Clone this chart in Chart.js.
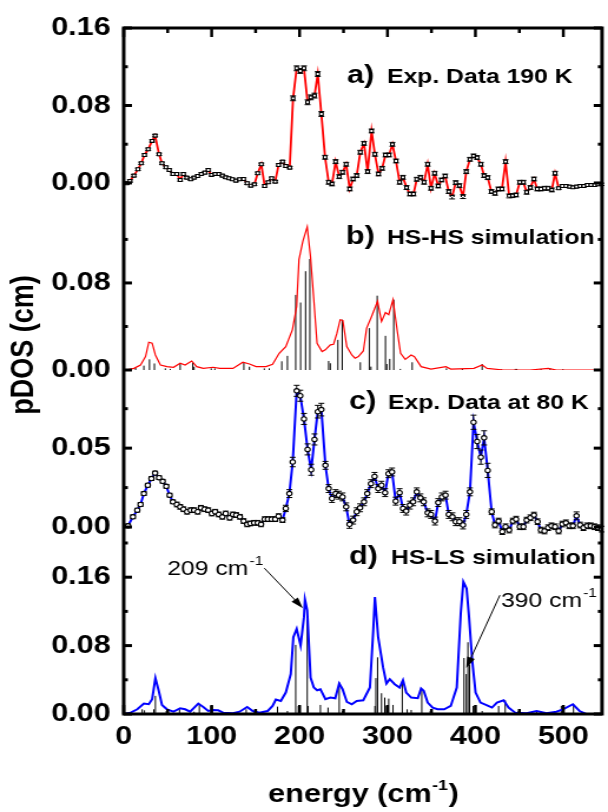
<!DOCTYPE html>
<html>
<head>
<meta charset="utf-8">
<title>pDOS</title>
<script src="https://cdn.jsdelivr.net/npm/chart.js@4.4.1/dist/chart.umd.min.js"></script>
<style>
    html, body { margin: 0; padding: 0; background: #fff; overflow: hidden; }
    #quadro { position: absolute; left: 0; top: 0; width: 516px; height: 812px; transform: scaleX(1.1783); transform-origin: 0 0; }
</style>
</head>
<body>
<div id="quadro"><canvas id="grafico" width="516" height="812"></canvas></div>
<script>
const fonte = "'Liberation Sans', Arial, Helvetica, sans-serif"

// eixos
const xTicks = [0, 100, 200, 300, 400, 500]
const xMinor = [50, 150, 250, 350, 450]
const aTicks = [0, 0.08, 0.16]
const aMinor = [0.04, 0.12]
const bTicks = [0, 0.08]
const bMinor = [0.04, 0.12]
const cTicks = [0, 0.05]
const cMinor = [0.025, 0.075]
const dTicks = [0, 0.08, 0.16]
const dMinor = [0.04, 0.12, 0.2]

const panelTags = ['a)', 'b)', 'c)', 'd)']
const panelNames = ['Exp. Data 190 K', 'HS-HS simulation', 'Exp. Data at 80 K', 'HS-LS simulation']
const peakNames = ['209', '390']
const peakTips = [[203.8, 0.1238], [389.6, 0.0537]]

// a) Exp. Data 190 K
const eA = [3.4,7.1,11.6,16.1,19.9,23.6,27.8,32.3,35.7,40.2,43.5,48.0,51.8,55.9,60.4,64.2,67.9,71.7,76.2,80.0,
    84.1,88.2,92.3,96.1,99.8,104.0,108.1,112.2,116.0,119.7,123.5,127.6,131.8,136.3,140.4,144.5,148.6,152.4,156.5,160.3,
    164.4,168.2,172.3,176.1,180.6,184.3,188.8,192.6,196.7,200.8,205.0,209.1,212.8,217.0,220.7,224.8,229.0,233.1,236.9,241.0,
    245.1,248.9,253.0,257.1,260.9,265.0,269.1,273.3,277.4,281.9,285.7,289.8,293.9,297.7,301.8,305.6,309.7,313.8,317.6,321.7,
    325.5,329.6,333.3,337.5,341.6,345.7,349.5,353.6,357.7,361.5,365.6,369.7,373.5,377.6,381.8,385.9,389.6,393.8,397.9,402.0,
    406.2,409.9,414.0,418.2,422.3,426.1,430.2,434.3,438.4,442.2,446.3,450.5,454.6,458.3,462.5,466.6,470.3,474.5,478.6,482.7,
    486.9,490.6,494.7,498.9,503.0,507.1,510.9,515.0,519.1,523.3,527.4,531.5,535.7,539.4,543.5]
const vA = [-0.0003,0.0021,0.0076,0.0141,0.0203,0.0289,0.0348,0.0434,0.0489,0.0296,0.0203,0.0162,0.0134,0.0093,0.0093,0.0031,0.0093,0.0055,0.0038,0.0055,
    0.0072,0.0093,0.0107,0.0134,0.0083,0.0093,0.0093,0.0076,0.0058,0.0048,0.0038,0.0024,0.0038,0.0041,-0.0003,-0.0028,-0.0014,0.0100,0.0193,-0.0031,
    0.0007,0.0048,0.0014,0.0186,0.0220,0.0175,0.0158,0.0874,0.1184,0.1156,0.1184,0.0833,0.0884,0.0902,0.1125,0.0712,0.0265,0.0007,-0.0010,0.0220,
    0.0065,0.0110,0.0193,-0.0062,0.0041,0.0076,0.0317,0.0409,0.0117,0.0537,0.0296,0.0093,0.0151,0.0289,0.0289,0.0399,0.0227,0.0007,0.0058,-0.0048,
    -0.0114,-0.0114,0.0038,0.0058,0.0007,0.0193,-0.0055,0.0100,-0.0031,0.0031,0.0072,-0.0089,-0.0145,0.0003,-0.0028,-0.0141,0.0117,0.0244,0.0279,0.0262,
    0.0193,0.0076,0.0055,-0.0089,-0.0107,-0.0062,-0.0062,0.0220,-0.0134,-0.0131,-0.0124,0.0007,0.0007,-0.0096,-0.0048,0.0041,-0.0062,-0.0062,-0.0055,-0.0055,
    -0.0072,0.0100,-0.0055,-0.0031,-0.0031,-0.0038,-0.0045,-0.0038,-0.0031,-0.0031,-0.0021,-0.0021,-0.0021,-0.0014,-0.0014]
const errA = [0.0012,0.0012,0.0012,0.0012,0.0012,0.0012,0.0012,0.0012,0.0012,0.0012,0.0012,0.0012,0.0012,0.0012,0.0012,0.0012,0.0012,0.0012,0.0012,0.0012,
    0.0012,0.0012,0.0012,0.0012,0.0012,0.0012,0.0012,0.0012,0.0012,0.0012,0.0012,0.0012,0.0012,0.0012,0.0012,0.0012,0.0012,0.0012,0.0012,0.0012,
    0.0012,0.0012,0.0012,0.0012,0.0012,0.0012,0.0012,0.0025,0.0025,0.0025,0.0025,0.0025,0.0025,0.0025,0.0025,0.0025,0.002,0.002,0.002,0.002,
    0.002,0.002,0.002,0.002,0.002,0.002,0.002,0.002,0.002,0.002,0.002,0.002,0.002,0.002,0.002,0.002,0.002,0.002,0.002,0.002,
    0.002,0.002,0.002,0.002,0.002,0.002,0.002,0.002,0.002,0.002,0.002,0.002,0.002,0.002,0.002,0.002,0.002,0.002,0.002,0.002,
    0.002,0.002,0.002,0.002,0.002,0.002,0.002,0.002,0.002,0.002,0.002,0.002,0.002,0.002,0.002,0.002,0.002,0.002,0.002,0.002,
    0.002,0.002,0.0012,0.0012,0.0012,0.0012,0.0012,0.0012,0.0012,0.0012,0.0012,0.0012,0.0012,0.0012,0.0012]

// b) HS-HS simulation
const eB = [2.3,11.6,19.1,24.8,28.5,32.3,36.0,41.7,49.2,56.7,64.2,69.8,77.3,83.0,90.5,101.7,109.2,124.2,135.5,143.0,
    150.5,161.8,169.3,176.8,184.3,191.8,196.7,199.3,203.8,208.7,212.4,216.2,219.9,225.6,229.3,235.0,238.7,242.5,246.2,249.2,
    253.7,259.4,263.1,266.9,272.5,276.3,281.9,288.7,293.2,297.7,301.4,306.3,311.2,314.9,320.2,326.9,330.7,338.2,349.5,366.4,
    372.0,398.3,407.7,413.3,432.1,462.1,482.8,492.1,537.2,544]
const vB = [0,0.0015,0.0046,0.0123,0.0255,0.0246,0.0138,0.0046,0.0031,0.0025,0.0062,0.0046,0.0083,0.0031,0.0015,0.0025,0.0015,0.0015,0.0071,0.0055,
    0.0031,0.0031,0.0052,0.0154,0.0215,0.0369,0.0585,0.1015,0.1185,0.1317,0.1046,0.0646,0.0246,0.0169,0.0185,0.0231,0.0237,0.0338,0.0462,0.0455,
    0.0215,0.0138,0.0108,0.0123,0.0175,0.0385,0.0492,0.0631,0.0446,0.0529,0.0508,0.0646,0.0354,0.0154,0.0098,0.0138,0.0123,0.0031,0.0009,0.0031,
    0.0009,0.0015,0.0046,0.0015,0,0,0.0015,0,0,0]
const sB = [13.5,22.9,29.3,34.9,47.3,52.9,64.2,78.5,80.0,99.5,103.6,136.6,143.0,159.9,165.5,179.8,186.2,195.6,201.2,206.8,
    211.7,233.1,235.0,243.6,248.5,269.1,279.3,281.2,288.3,297.7,299.2,302.6,307.1,314.6,328.1,367.1,385.1,407.7,429.1,445.3,
    447.1,474.5,485.0,499.6]
const hB = [0.002,0.004,0.0098,0.006,0.0015,0.001,0.0055,0.007,0.003,0.0015,0.0015,0.007,0.003,0.0015,0.0015,0.008,0.013,0.069,0.062,0.0908,
    0.102,0.0083,0.0062,0.0277,0.0462,0.0071,0.0385,0.0031,0.0683,0.0314,0.0055,0.0102,0.0646,0.001,0.0071,0.0015,0.001,0.0055,0.0008,0.001,
    0.001,0.001,0.0015,0.0008]

// c) Exp. Data at 80 K
const eC = [4.9,10.5,15.4,19.1,22.9,27.4,31.5,35.7,40.2,44.3,48.4,52.2,55.9,60.4,64.2,67.9,72.1,76.2,80.0,84.1,
    87.8,92.0,96.1,100.2,104.0,108.1,112.2,116.0,120.5,124.2,128.0,132.1,136.3,140.4,144.1,148.3,152.4,156.2,160.3,164.0,
    168.2,172.3,176.1,180.6,184.3,188.4,192.2,196.7,200.8,205.0,209.1,213.2,217.0,220.7,224.8,229.4,233.1,236.9,241.0,244.7,
    248.9,253.0,256.8,260.9,265.0,268.8,273.3,277.0,281.2,285.3,289.4,293.2,297.3,301.1,305.2,309.3,313.8,317.6,321.3,325.5,
    329.2,333.3,337.5,341.2,345.7,349.5,354.0,357.7,361.9,366.0,369.7,373.9,377.6,381.8,385.9,389.6,393.8,397.9,402.0,406.2,
    409.9,414.0,418.5,422.3,426.4,430.6,434.3,438.4,442.6,446.3,450.5,454.6,458.3,462.5,466.6,470.7,474.5,478.6,482.7,486.5,
    490.6,494.7,498.9,503.0,506.8,510.9,515.0,519.1,522.9,527.0,531.2,535.3,539.4,543.5]
const vC = [0.0008,0.0065,0.0107,0.0143,0.0212,0.0265,0.0307,0.0342,0.0313,0.0290,0.0258,0.0202,0.0160,0.0143,0.0128,0.0113,0.0097,0.0107,0.0107,0.0097,
    0.0122,0.0113,0.0107,0.0086,0.0097,0.0080,0.0065,0.0086,0.0059,0.0080,0.0076,0.0065,0.0038,0.0017,0.0023,0.0027,0.0027,0.0017,0.0050,0.0050,
    0.0050,0.0050,0.0069,0.0044,0.0118,0.0212,0.0412,0.0863,0.0832,0.0685,0.0492,0.0363,0.0555,0.0731,0.0744,0.0391,0.0244,0.0181,0.0212,0.0202,
    0.0191,0.0128,0.0017,0.0044,0.0097,0.0122,0.0160,0.0212,0.0275,0.0321,0.0244,0.0265,0.0218,0.0338,0.0349,0.0164,0.0218,0.0118,0.0101,0.0139,
    0.0160,0.0223,0.0185,0.0160,0.0090,0.0080,0.0038,0.0155,0.0191,0.0202,0.0080,0.0065,0.0034,0.0034,0.0013,0.0080,0.0223,0.0664,0.0542,0.0443,
    0.0565,0.0359,0.0097,0.0013,0.0038,-0.0029,0.0002,-0.0019,0.0038,0.0050,0.0002,0.0002,0.0044,0.0059,0.0076,0.0034,-0.0019,-0.0025,-0.0004,0.0008,
    0.0002,-0.0025,0.0019,0.0027,0.0008,0.0008,0.0071,0.0013,-0.0004,0.0008,0.0008,0.0002,-0.0004,-0.0013]
const errC = [0.0012,0.0012,0.0012,0.0012,0.0012,0.0012,0.0012,0.0012,0.0012,0.0012,0.0012,0.0012,0.0012,0.0015,0.0015,0.0015,0.0015,0.0015,0.0015,0.0015,
    0.0015,0.0015,0.0015,0.0015,0.0015,0.0015,0.0015,0.0015,0.0015,0.0015,0.0015,0.0015,0.0015,0.0015,0.0015,0.0015,0.0015,0.0015,0.0015,0.0015,
    0.0015,0.0015,0.0015,0.0015,0.002,0.0025,0.003,0.0035,0.0035,0.0035,0.0035,0.0035,0.0035,0.004,0.004,0.0025,0.0025,0.0025,0.0025,0.0025,
    0.0025,0.0025,0.0025,0.0025,0.0025,0.0025,0.0025,0.0025,0.0025,0.0025,0.0025,0.0025,0.0025,0.0025,0.0025,0.0025,0.0025,0.0025,0.0025,0.0025,
    0.0025,0.0025,0.0025,0.0025,0.0025,0.0025,0.0025,0.0025,0.0025,0.0025,0.0025,0.0025,0.0025,0.0025,0.0025,0.0025,0.0025,0.0045,0.0045,0.0045,
    0.0045,0.0045,0.0018,0.0018,0.0018,0.0018,0.0018,0.0018,0.0018,0.0018,0.0018,0.0018,0.0018,0.0018,0.0018,0.0018,0.0018,0.0018,0.0018,0.0018,
    0.0018,0.0018,0.0018,0.0018,0.0018,0.0018,0.0025,0.0018,0.0018,0.0018,0.0018,0.0018,0.0018,0.0018]

// d) HS-LS simulation
const eD = [0.4,7.9,15.4,22.9,28.5,32.3,36.0,39.8,43.5,49.2,56.7,64.2,69.8,75.5,84.8,90.5,96.1,101.7,107.4,113.0,
    124.2,131.8,140.4,146.8,154.3,163.7,169.3,173.0,178.7,184.3,190.0,192.9,196.7,201.2,205.0,206.1,208.7,212.5,216.2,220.0,
    223.7,229.4,235.0,240.6,245.1,248.9,253.8,259.4,265.0,272.5,280.0,283.8,285.7,289.4,295.0,298.8,302.6,308.2,313.8,317.6,
    321.3,327.0,334.5,338.2,341.2,345.7,351.4,357.0,364.5,372.0,378.8,383.3,386.3,390.0,392.6,396.4,400.2,405.8,413.3,418.9,
    424.5,432.1,437.7,445.2,458.3,469.6,480.8,492.1,499.6,510.9,518.4,525.9,544.7]
const vD = [0,0.0016,0.0055,0.0122,0.0114,0.0173,0.0420,0.0271,0.0106,0.0055,0.0027,0.0067,0.0055,0.0027,0.0122,0.0082,0.0035,0.0047,0.0043,0.0016,
    0.0008,0.0027,0.0082,0.0035,0.0016,0.0035,0.0094,0.0169,0.0153,0.0251,0.0467,0.0898,0.0996,0.0800,0.1133,0.1337,0.1212,0.0427,0.0310,0.0278,
    0.0290,0.0173,0.0192,0.0184,0.0357,0.0290,0.0141,0.0114,0.0153,0.0161,0.0310,0.0976,0.1369,0.0898,0.0545,0.0357,0.0408,0.0349,0.0310,0.0396,
    0.0251,0.0192,0.0184,0.0298,0.0271,0.0133,0.0075,0.0055,0.0055,0.0094,0.0310,0.1173,0.1545,0.1467,0.1153,0.0624,0.0251,0.0133,0.0102,0.0075,
    0.0133,0.0161,0.0075,0.0016,0.0008,0.0035,0.0008,0.0027,0.0055,0.0114,0.0035,0,0]
const sD = [21.0,23.6,34.2,36.0,48.4,50.3,63.4,80.0,86.0,99.1,100.6,139.3,148.6,174.9,186.2,195.6,198.6,200.5,208.7,209.8,
    223.7,232.4,245.1,248.9,259.4,285.7,286.8,288.7,293.2,296.9,298.8,301.4,306.3,316.8,322.4,327.0,339.0,348.7,387.0,389.6,
    391.5,393.4,397.5,399.4,407.7,426.4,433.9,448.9,469.6,477.1,497.7,499.6,511.6]
const hD = [0.0055,0.0043,0.0055,0.0212,0.0035,0.0035,0.0055,0.0027,0.0114,0.0094,0.0094,0.0055,0.0035,0.0086,0.0035,0.0808,0.0094,0.0094,0.1106,0.0094,
    0.0106,0.0075,0.0369,0.0035,0.0008,0.0094,0.0420,0.0663,0.0243,0.0192,0.0094,0.0180,0.0106,0.0388,0.0055,0.0047,0.0279,0.0035,0.0655,0.0467,
    0.0839,0.0580,0.0094,0.0094,0.0035,0.0094,0.0161,0.0035,0.0035,0.0016,0.0094,0.0094,0.0114]


function pontos(es, vs) {
    return es.map((e, i) => ({ x: e, y: vs[i] }))
}

// cada vareta vira (x,0)-(x,h) com um buraco depois
function varetas(es, hs) {
    var out = []
    for (let i = 0; i < es.length; i++) {
        out.push({ x: es[i], y: 0 }, { x: es[i], y: hs[i] }, { x: es[i], y: null })
    }
    return out
}

function eixoY(min, max, peso, marcas) {
    return {
        type: 'linear',
        position: 'left',
        stack: 'paineis',
        stackWeight: peso,
        min: min,
        max: max,
        afterBuildTicks: (s) => { s.ticks = marcas.map(v => ({ value: v })) },
        afterFit: (s) => { s.width = 105 },
        grid: { display: false, drawTicks: false },
        border: { display: false },
        ticks: {
            color: '#000',
            padding: 11,
            font: { family: fonte, size: 26, weight: 'bold' },
            callback: (v) => Number(v).toFixed(2),
        },
    }
}

const paineis = [
    { id: 'yA', major: aTicks, minor: aMinor },
    { id: 'yB', major: bTicks, minor: bMinor },
    { id: 'yC', major: cTicks, minor: cMinor },
    { id: 'yD', major: dTicks, minor: dMinor },
]

const layoutTexto = {
    tagX: [294.5, 293.6, 296.2, 296.2],
    nomeX: [328.4, 328.4, 329.3, 331.8],
    baseY: [83, 244, 409, 564],
    notaTexto: [[49.5, 0.1624], [429.1, 0.125]],
    notaCauda: [[159.9, 0.1706], [427.9, 0.139]],
}

function linha(ctx, x1, y1, x2, y2) {
    ctx.beginPath()
    ctx.moveTo(x1, y1)
    ctx.lineTo(x2, y2)
    ctx.stroke()
}

function seta(ctx, x1, y1, x2, y2) {
    const ang = Math.atan2(y2 - y1, x2 - x1)
    const c = Math.cos(ang), s = Math.sin(ang)
    ctx.lineWidth = 1
    linha(ctx, x1, y1, x2 - 8 * c, y2 - 8 * s)
    ctx.beginPath()
    ctx.moveTo(x2, y2)
    ctx.lineTo(x2 - 11 * c + 3.5 * s, y2 - 11 * s - 3.5 * c)
    ctx.lineTo(x2 - 11 * c - 3.5 * s, y2 - 11 * s + 3.5 * c)
    ctx.closePath()
    ctx.fill()
}

const moldura = {
    id: 'moldura',
    beforeDatasetDraw(chart, args) {
        const ds = chart.data.datasets[args.index]
        if (!ds.errs) return
        const ctx = chart.ctx
        const xs = chart.scales.x
        const ys = chart.scales[ds.yAxisID]
        ctx.save()
        ctx.strokeStyle = '#000'
        ctx.lineWidth = 1
        ds.data.forEach((p, i) => {
            const px = xs.getPixelForValue(p.x)
            const y1 = ys.getPixelForValue(p.y + ds.errs[i])
            const y2 = ys.getPixelForValue(p.y - ds.errs[i])
            linha(ctx, px, y1, px, y2)
            linha(ctx, px - 2.5, y1, px + 2.5, y1)
            linha(ctx, px - 2.5, y2, px + 2.5, y2)
        })
        ctx.restore()
    },
    afterDraw(chart) {
        const ctx = chart.ctx
        const a = chart.chartArea
        const xs = chart.scales.x
        ctx.save()
        ctx.strokeStyle = '#000'
        ctx.fillStyle = '#000'

        // moldura e marcas para dentro
        ctx.lineWidth = 3
        ctx.strokeRect(a.left, a.top, a.right - a.left, a.bottom - a.top)
        ctx.lineWidth = 2.5
        xTicks.forEach(v => {
            const px = xs.getPixelForValue(v)
            linha(ctx, px, a.top, px, a.top + 9)
            linha(ctx, px, a.bottom, px, a.bottom - 9)
        })
        xMinor.forEach(v => {
            const px = xs.getPixelForValue(v)
            linha(ctx, px, a.top, px, a.top + 5)
            linha(ctx, px, a.bottom, px, a.bottom - 5)
        })
        ctx.lineWidth = 3
        paineis.forEach(p => {
            const s = chart.scales[p.id]
            p.major.forEach(v => {
                const py = s.getPixelForValue(v)
                linha(ctx, a.left, py, a.left + 7, py)
                linha(ctx, a.right, py, a.right - 7, py)
            })
            p.minor.forEach(v => {
                const py = s.getPixelForValue(v)
                linha(ctx, a.left, py, a.left + 3.5, py)
                linha(ctx, a.right, py, a.right - 3.5, py)
            })
        })

        // nomes dos paineis
        ctx.textBaseline = 'alphabetic'
        ctx.textAlign = 'left'
        for (let i = 0; i < 4; i++) {
            ctx.font = `bold 26px ${fonte}`
            ctx.fillText(panelTags[i], layoutTexto.tagX[i], layoutTexto.baseY[i])
            ctx.font = `bold 21px ${fonte}`
            ctx.fillText(panelNames[i], layoutTexto.nomeX[i], layoutTexto.baseY[i])
        }

        // setas do painel d
        const yD = chart.scales.yD
        for (let i = 0; i < peakNames.length; i++) {
            const tx = xs.getPixelForValue(layoutTexto.notaTexto[i][0])
            const ty = yD.getPixelForValue(layoutTexto.notaTexto[i][1])
            ctx.font = `21px ${fonte}`
            ctx.fillText(peakNames[i] + ' cm', tx, ty)
            const w = ctx.measureText(peakNames[i] + ' cm').width
            ctx.font = `13px ${fonte}`
            ctx.fillText('-1', tx + w + 1, ty - 10)
            seta(ctx,
                xs.getPixelForValue(layoutTexto.notaCauda[i][0]), yD.getPixelForValue(layoutTexto.notaCauda[i][1]),
                xs.getPixelForValue(peakTips[i][0]), yD.getPixelForValue(peakTips[i][1]))
        }

        // titulo do eixo x
        ctx.font = `bold 26px ${fonte}`
        const w1 = ctx.measureText('energy (cm').width
        const w3 = ctx.measureText(')').width
        ctx.font = `bold 15px ${fonte}`
        const w2 = ctx.measureText('-1').width
        let x0 = (a.left + a.right) / 2 - (w1 + w2 + w3) / 2
        ctx.font = `bold 26px ${fonte}`
        ctx.fillText('energy (cm', x0, 802)
        ctx.font = `bold 15px ${fonte}`
        ctx.fillText('-1', x0 + w1 + 0.5, 790)
        ctx.font = `bold 26px ${fonte}`
        ctx.fillText(')', x0 + w1 + w2 + 1, 802)

        // titulo do eixo y
        ctx.translate(21, 345)
        ctx.rotate(-Math.PI / 2)
        ctx.textAlign = 'center'
        ctx.textBaseline = 'middle'
        ctx.font = `bold 27px ${fonte}`
        ctx.fillText('pDOS (cm)', 0, 0)
        ctx.restore()
    },
}

const data = {
    datasets: [
        { data: pontos(eA, vA), yAxisID: 'yA', showLine: false, pointStyle: 'rect', pointRadius: 2.1, pointBorderWidth: 1.1,
          pointBackgroundColor: '#fff', pointBorderColor: '#000', errs: errA, order: 0 },
        { data: pontos(eA, vA), yAxisID: 'yA', borderColor: '#ff0000', borderWidth: 1.8, pointRadius: 0, order: 1 },
        { data: varetas(sB, hB), yAxisID: 'yB', borderColor: '#000', borderWidth: 1, pointRadius: 0, spanGaps: false, order: 3 },
        { data: pontos(eB, vB), yAxisID: 'yB', borderColor: '#ff0000', borderWidth: 1.2, pointRadius: 0, order: 2 },
        { data: pontos(eC, vC), yAxisID: 'yC', showLine: false, pointStyle: 'circle', pointRadius: 2.2, pointBorderWidth: 1.1,
          pointBackgroundColor: '#fff', pointBorderColor: '#000', errs: errC, order: 0 },
        { data: pontos(eC, vC), yAxisID: 'yC', borderColor: '#0000ff', borderWidth: 2, pointRadius: 0, order: 1 },
        { data: varetas(sD, hD), yAxisID: 'yD', borderColor: '#000', borderWidth: 1, pointRadius: 0, spanGaps: false, order: 3 },
        { data: pontos(eD, vD), yAxisID: 'yD', borderColor: '#0000ff', borderWidth: 2, pointRadius: 0, order: 2 },
    ],
}

const config = {
    type: 'line',
    data: data,
    options: {
        responsive: false,
        animation: false,
        devicePixelRatio: 1,
        events: [],
        layout: { padding: { top: 28, right: 1, left: 0, bottom: 0 } },
        plugins: { legend: { display: false }, tooltip: { enabled: false } },
        scales: {
            x: {
                type: 'linear',
                position: 'bottom',
                min: 0,
                max: 544,
                afterBuildTicks: (s) => { s.ticks = xTicks.map(v => ({ value: v })) },
                afterFit: (s) => { s.height = 98 },
                grid: { display: false, drawTicks: false },
                border: { display: false },
                ticks: { color: '#000', padding: 7, maxRotation: 0, autoSkip: false,
                         font: { family: fonte, size: 26, weight: 'bold' }, callback: (v) => v },
            },
            // a ordem importa: o ultimo eixo da pilha fica em cima
            yD: eixoY(0, 0.2, 171, dTicks),
            yC: eixoY(-0.0101, 0.0995, 173, cTicks),
            yB: eixoY(0, 0.159, 173, bTicks),
            yA: eixoY(-0.0145, 0.16, 169, aTicks),
        },
    },
    plugins: [moldura],
}

new Chart(document.getElementById('grafico'), config)
</script>
</body>
</html>
